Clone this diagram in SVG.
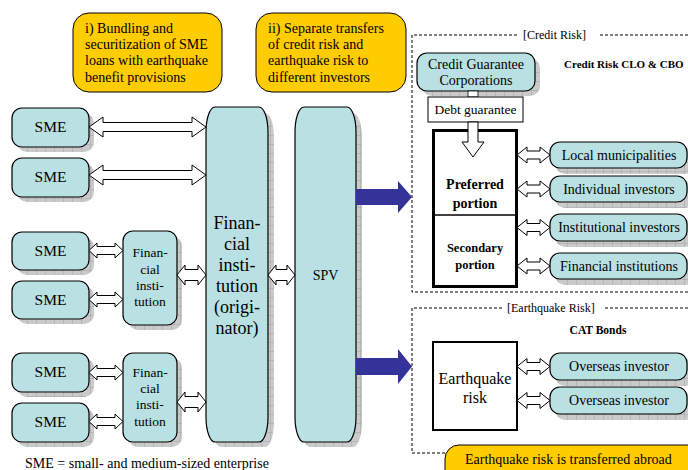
<svg xmlns="http://www.w3.org/2000/svg" width="688" height="470" viewBox="0 0 688 470" font-family="'Liberation Serif', 'Times New Roman', serif">
<defs>
<pattern id="grid" width="9" height="9" patternUnits="userSpaceOnUse">
<rect width="9" height="9" fill="#cacaca"/>
<path d="M0 0.5H9M0.5 0V9" stroke="#a8a8a8" stroke-width="0.6"/>
</pattern>
<style>
text{font-family:'Liberation Serif','Times New Roman',serif;fill:#000}
.box{fill:#b9e0e3;stroke:#000;stroke-width:1.2}
.sh{fill:url(#grid)}
.yel{fill:#ffcc00;stroke:#000;stroke-width:1}
.dbl{fill:#fff;stroke:#000;stroke-width:1}
.blue{fill:#333399}
.dash{fill:none;stroke:#000;stroke-width:1;stroke-dasharray:3 2}
.c{text-anchor:middle}
.b{font-weight:bold}
</style>
</defs>
<rect width="688" height="470" fill="#fff"/>

<g id="note1">
<rect class="yel" x="73" y="13" width="149" height="79" rx="16"/>
<text x="85" y="33" font-size="14">i) Bundling and</text>
<text x="85" y="49" font-size="14">securitization of SME</text>
<text x="85" y="65" font-size="14">loans with earthquake</text>
<text x="85" y="82" font-size="14">benefit provisions</text>
</g>
<g id="note2">
<rect class="yel" x="256" y="13" width="150" height="79" rx="16"/>
<text x="268" y="33" font-size="14">ii) Separate transfers</text>
<text x="268" y="49" font-size="14">of credit risk and</text>
<text x="268" y="65" font-size="14">earthquake risk to</text>
<text x="268" y="82" font-size="14">different investors</text>
</g>

<g id="sme1"><rect class="sh" x="17" y="113" width="77" height="39" rx="10"/><rect class="box" x="12" y="108" width="77" height="39" rx="10"/><text class="c" x="50.5" y="132" font-size="15.5">SME</text></g>
<g id="sme2"><rect class="sh" x="17" y="163" width="77" height="39" rx="10"/><rect class="box" x="12" y="158" width="77" height="39" rx="10"/><text class="c" x="50.5" y="182" font-size="15.5">SME</text></g>
<g id="sme3"><rect class="sh" x="17" y="237" width="77" height="38" rx="10"/><rect class="box" x="12" y="232" width="77" height="38" rx="10"/><text class="c" x="50.5" y="256" font-size="15.5">SME</text></g>
<g id="sme4"><rect class="sh" x="17" y="286" width="77" height="38" rx="10"/><rect class="box" x="12" y="281" width="77" height="38" rx="10"/><text class="c" x="50.5" y="305" font-size="15.5">SME</text></g>
<g id="sme5"><rect class="sh" x="17" y="358" width="77" height="39" rx="10"/><rect class="box" x="12" y="353" width="77" height="39" rx="10"/><text class="c" x="50.5" y="377" font-size="15.5">SME</text></g>
<g id="sme6"><rect class="sh" x="17" y="408" width="77" height="39" rx="10"/><rect class="box" x="12" y="403" width="77" height="39" rx="10"/><text class="c" x="50.5" y="427" font-size="15.5">SME</text></g>

<g id="fi1"><rect class="sh" x="128" y="236" width="54" height="94" rx="10"/><rect class="box" x="123" y="231" width="54" height="94" rx="10"/>
<text class="c" x="150" y="257" font-size="13.5">Finan-</text><text class="c" x="150" y="274" font-size="13.5">cial</text><text class="c" x="150" y="290" font-size="13.5">insti-</text><text class="c" x="150" y="306" font-size="13.5">tution</text></g>
<g id="fi2"><rect class="sh" x="128" y="358" width="54" height="89" rx="10"/><rect class="box" x="123" y="353" width="54" height="89" rx="10"/>
<text class="c" x="150" y="377" font-size="13.5">Finan-</text><text class="c" x="150" y="393" font-size="13.5">cial</text><text class="c" x="150" y="409" font-size="13.5">insti-</text><text class="c" x="150" y="426" font-size="13.5">tution</text></g>

<g id="originator"><rect class="sh" x="212" y="113" width="62" height="334" rx="9" ry="25"/><rect class="box" x="206" y="107" width="62" height="335" rx="9" ry="25"/>
<text class="c" x="237" y="229" font-size="18">Finan-</text><text class="c" x="237" y="250" font-size="18">cial</text><text class="c" x="237" y="271" font-size="18">insti-</text><text class="c" x="237" y="292" font-size="18">tution</text><text class="c" x="237" y="313" font-size="18">(origi-</text><text class="c" x="237" y="334" font-size="18">nator)</text></g>

<g id="spv"><rect class="sh" x="301" y="113" width="61" height="334" rx="9" ry="25"/><rect class="box" x="295" y="107" width="61" height="335" rx="9" ry="25"/>
<text class="c" x="325.5" y="280" font-size="14">SPV</text></g>

<g id="creditRisk">
<path class="dash" d="M517 35H412V292H700M600 35H700"/>
<text x="523" y="39" font-size="12">[Credit Risk]</text>
<text class="b" x="564" y="68" font-size="11">Credit Risk CLO &amp; CBO</text>
</g>
<g id="cgc"><rect class="sh" x="422" y="58" width="118" height="38" rx="10"/><rect class="box" x="417" y="53" width="118" height="38" rx="10"/>
<text class="c" x="476" y="69" font-size="14">Credit Guarantee</text><text class="c" x="476" y="85" font-size="14">Corporations</text></g>
<g id="debt"><rect x="468" y="91" width="10" height="6" fill="#fff" stroke="#000" stroke-width="0.8"/><rect x="428" y="97" width="95" height="25" fill="#fff" stroke="#000" stroke-width="1"/>
<text class="c" x="475.5" y="114" font-size="13.5">Debt guarantee</text></g>
<g id="portions"><rect x="433.5" y="130.5" width="83" height="156" fill="#fff" stroke="#000" stroke-width="3"/>
<line x1="433" y1="215" x2="517" y2="215" stroke="#000" stroke-width="1.5"/>
<text class="c b" x="475" y="189" font-size="14">Preferred</text><text class="c b" x="475" y="208" font-size="14">portion</text>
<text class="c b" x="475" y="252" font-size="12.5">Secondary</text><text class="c b" x="475" y="269" font-size="12.5">portion</text></g>

<g id="inv1"><rect class="sh" x="555" y="148" width="140" height="26" rx="10"/><rect class="box" x="550" y="142" width="137" height="26" rx="10"/><text class="c" x="619" y="160" font-size="14">Local municipalities</text></g>
<g id="inv2"><rect class="sh" x="555" y="182" width="140" height="26" rx="10"/><rect class="box" x="550" y="176" width="137" height="26" rx="10"/><text class="c" x="619" y="194" font-size="14">Individual investors</text></g>
<g id="inv3"><rect class="sh" x="555" y="220" width="140" height="27" rx="10"/><rect class="box" x="550" y="214" width="137" height="27" rx="10"/><text class="c" x="619" y="232" font-size="14">Institutional investors</text></g>
<g id="inv4"><rect class="sh" x="555" y="259" width="140" height="26" rx="10"/><rect class="box" x="550" y="253" width="137" height="26" rx="10"/><text class="c" x="619" y="271" font-size="14">Financial  institutions</text></g>

<g id="eqRisk">
<path class="dash" d="M502 308H412V453H446M605 308H700"/>
<text x="507" y="312" font-size="12">[Earthquake Risk]</text>
<text class="b c" x="598" y="334" font-size="11.5">CAT Bonds</text>
</g>
<g id="eqbox"><rect x="433" y="342" width="84" height="88" fill="#fff" stroke="#000" stroke-width="2"/>
<text class="c" x="475" y="384" font-size="16">Earthquake</text><text class="c" x="475" y="403" font-size="16">risk</text></g>
<g id="ov1"><rect class="sh" x="555" y="359" width="140" height="27" rx="10"/><rect class="box" x="550" y="353" width="137" height="27" rx="10"/><text class="c" x="619" y="371" font-size="14">Overseas investor</text></g>
<g id="ov2"><rect class="sh" x="555" y="393" width="140" height="27" rx="10"/><rect class="box" x="550" y="387" width="137" height="27" rx="10"/><text class="c" x="619" y="405" font-size="14">Overseas investor</text></g>

<g id="note3">
<rect class="yel" x="445" y="445" width="260" height="40" rx="14"/>
<text x="465" y="464" font-size="14">Earthquake risk is transferred abroad</text>
</g>

<g id="connectors">
<polygon class="dbl" points="89,127 103,117 103,122.5 192,122.5 192,117 206,127 192,137 192,131.5 103,131.5 103,137"/>
<polygon class="dbl" points="89,175 103,165 103,170.5 192,170.5 192,165 206,175 192,185 192,179.5 103,179.5 103,185"/>
<polygon class="dbl" points="89,250.5 97,243 97,246.5 115,246.5 115,243 123,250.5 115,258 115,254.5 97,254.5 97,258"/>
<polygon class="dbl" points="89,299.5 97,292 97,295.5 115,295.5 115,292 123,299.5 115,307 115,303.5 97,303.5 97,307"/>
<polygon class="dbl" points="89,372.5 97,365 97,368.5 115,368.5 115,365 123,372.5 115,380 115,376.5 97,376.5 97,380"/>
<polygon class="dbl" points="89,421.5 97,414 97,417.5 115,417.5 115,414 123,421.5 115,429 115,425.5 97,425.5 97,429"/>
<polygon class="dbl" points="177,275 185,265 185,269.5 198,269.5 198,265 206,275 198,285 198,280.5 185,280.5 185,285"/>
<polygon class="dbl" points="177,402 185,392 185,396.5 198,396.5 198,392 206,402 198,412 198,407.5 185,407.5 185,412"/>
<polygon class="dbl" points="268,275 276,265 276,269.5 287,269.5 287,265 295,275 287,285 287,280.5 276,280.5 276,285"/>
<polygon class="blue" points="356,189 398,189 398,181 412,197 398,213 398,205 356,205"/>
<polygon class="blue" points="356,358 398,358 398,349 412,366.5 398,384 398,375 356,375"/>
<polygon class="dbl" points="468,122 478,122 478,142 484,142 473,157 462,142 468,142"/>
<polygon class="dbl" points="517,155 527,147 527,151 540,151 540,147 550,155 540,163 540,159 527,159 527,163"/>
<polygon class="dbl" points="517,189 527,181 527,185 540,185 540,181 550,189 540,197 540,193 527,193 527,197"/>
<polygon class="dbl" points="517,227.5 527,219.5 527,223.5 540,223.5 540,219.5 550,227.5 540,235.5 540,231.5 527,231.5 527,235.5"/>
<polygon class="dbl" points="517,266 527,258 527,262 540,262 540,258 550,266 540,274 540,270 527,270 527,274"/>
<polygon class="dbl" points="517,366.5 527,358.5 527,362.5 540,362.5 540,358.5 550,366.5 540,374.5 540,370.5 527,370.5 527,374.5"/>
<polygon class="dbl" points="517,400.5 527,392.5 527,396.5 540,396.5 540,392.5 550,400.5 540,408.5 540,404.5 527,404.5 527,408.5"/>
</g>

<text x="25" y="468" font-size="14">SME = small- and medium-sized enterprise</text>
</svg>
